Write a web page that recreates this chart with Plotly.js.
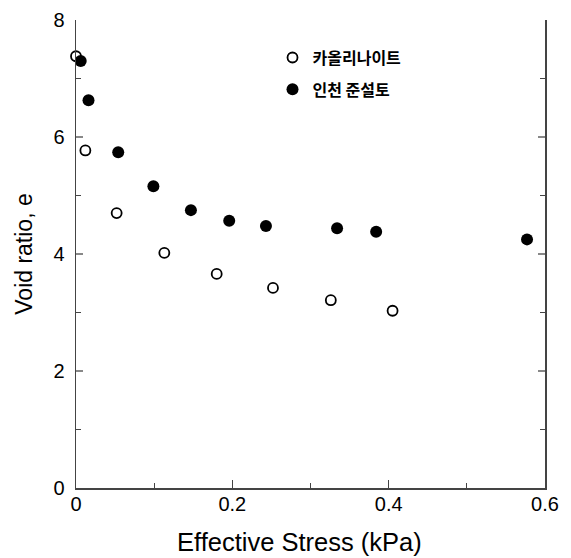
<!DOCTYPE html>
<html>
<head>
<meta charset="utf-8">
<script src="https://cdn.plot.ly/plotly-3.0.1.min.js"></script>
<style>html,body{margin:0;padding:0;background:#fff;}#chart{width:571px;height:558px;}</style>
</head>
<body>
<div id="chart"></div>
<script>
// Consolidation data: void ratio vs effective stress
const kaoliniteStress = [0.000, 0.012, 0.052, 0.113, 0.180, 0.252, 0.326, 0.405];
const kaoliniteVoid   = [7.38, 5.77, 4.70, 4.02, 3.66, 3.42, 3.21, 3.03];
const incheonStress = [0.006, 0.016, 0.054, 0.099, 0.147, 0.196, 0.243, 0.334, 0.384, 0.577];
const incheonVoid   = [7.30, 6.63, 5.74, 5.16, 4.75, 4.57, 4.48, 4.44, 4.38, 4.25];
const seriesNames = ['카올리나이트', '인천 준설토'];
const xTitle = 'Effective Stress (kPa)';
const yTitle = 'Void ratio, e';

const axisColor = '#444';
const fontFamily = '"Liberation Sans", Arial, sans-serif';

const traces = [
  {
    x: kaoliniteStress, y: kaoliniteVoid, name: '<b>' + seriesNames[0] + '</b>',
    legendgroup: 'a',
    type: 'scatter', mode: 'markers', cliponaxis: false,
    marker: {symbol: 'circle-open', size: 10, color: '#000', line: {width: 1.8, color: '#000'}}
  },
  {
    x: incheonStress, y: incheonVoid, name: '<b>' + seriesNames[1] + '</b>',
    legendgroup: 'b',
    type: 'scatter', mode: 'markers', cliponaxis: false,
    marker: {symbol: 'circle', size: 12, color: '#000'}
  }
];

const layout = {
  width: 571, height: 558,
  margin: {l: 76, r: 26, t: 20, b: 70},
  paper_bgcolor: '#fff', plot_bgcolor: '#fff',
  font: {family: fontFamily, size: 20, color: '#000'},
  showlegend: true,
  legend: {
    x: 0.419, y: 0.956, xanchor: 'left', yanchor: 'top',
    bgcolor: 'rgba(0,0,0,0)', itemwidth: 30, tracegroupgap: 8,
    font: {family: '"Noto Sans CJK KR", sans-serif', size: 16, color: '#000'}
  },
  // x-axis title placed as an annotation so it can sit slightly left of centre
  annotations: [{
    text: xTitle, xref: 'paper', yref: 'paper',
    x: 0.4766, y: -0.1154, xanchor: 'center', yanchor: 'middle',
    showarrow: false, font: {family: fontFamily, size: 25.5, color: '#000'}
  }],
  xaxis: {
    range: [0, 0.6], dtick: 0.2, tick0: 0,
    showgrid: false, zeroline: false,
    showline: true, linecolor: axisColor, linewidth: 1.5,
    ticks: 'inside', ticklen: 8, tickcolor: axisColor, tickwidth: 1,
    minor: {dtick: 0.1, ticks: 'inside', ticklen: 5, tickcolor: axisColor, showgrid: false},
    tickfont: {size: 20}, ticklabelstandoff: -3
  },
  xaxis2: {
    overlaying: 'x', side: 'top', range: [0, 0.6], dtick: 0.06, tick0: 0,
    showgrid: false, zeroline: false, showticklabels: false,
    showline: true, linecolor: axisColor, linewidth: 1.5,
    ticks: 'inside', ticklen: 5, tickcolor: axisColor
  },
  yaxis: {
    range: [0, 8], dtick: 2, tick0: 0,
    showgrid: false, zeroline: false,
    showline: true, linecolor: axisColor, linewidth: 1.5, mirror: 'allticks',
    ticks: 'inside', ticklen: 7, tickcolor: '#888', tickwidth: 1.5,
    minor: {dtick: 1, ticks: 'inside', ticklen: 5, tickcolor: axisColor, showgrid: false},
    tickfont: {size: 20}, ticklabelstandoff: 6,
    title: {text: yTitle, font: {size: 23}, standoff: 14}
  }
};

Plotly.newPlot('chart', traces, layout, {staticPlot: true, displayModeBar: false});
</script>
</body>
</html>
